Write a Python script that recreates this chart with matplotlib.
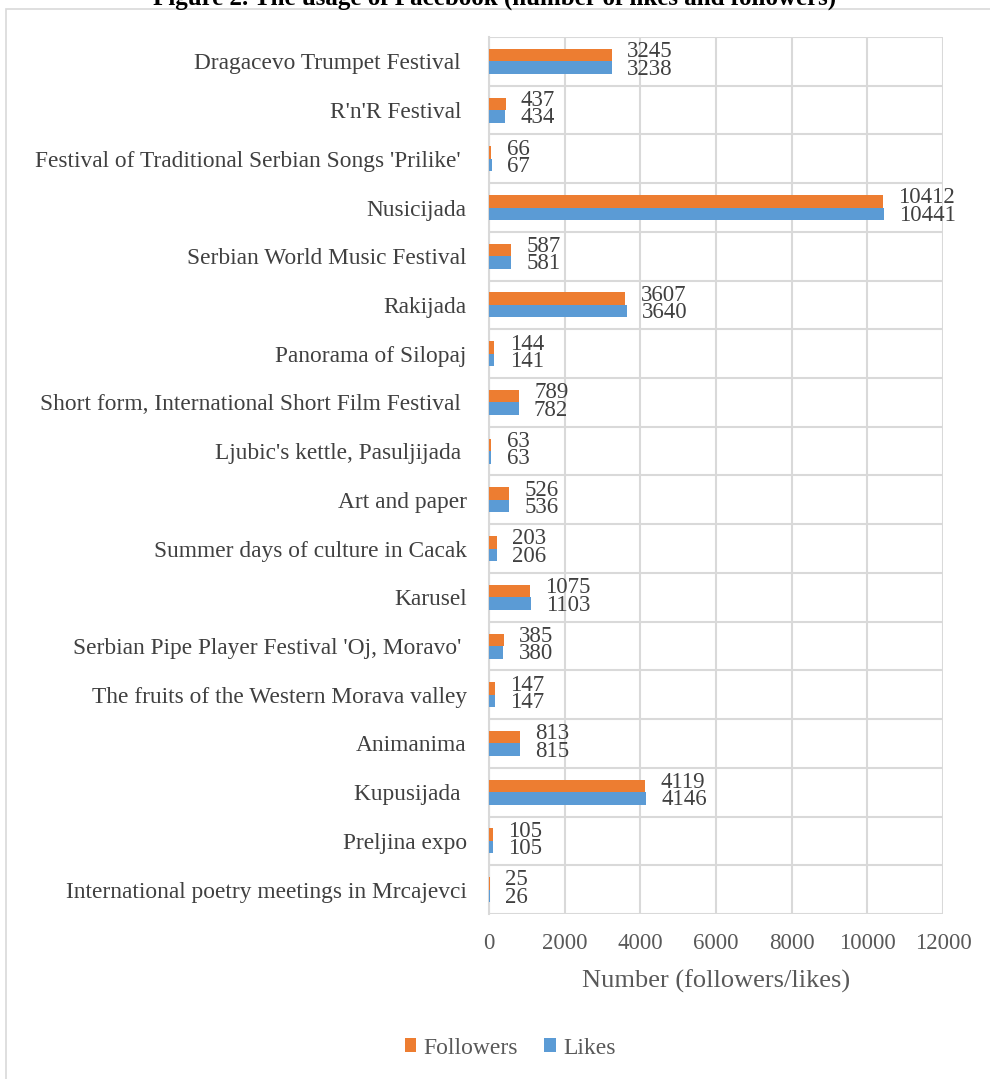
import matplotlib
matplotlib.use("Agg")
import matplotlib.pyplot as plt
from matplotlib.patches import Rectangle
import numpy as np

categories = [
    "Dragacevo Trumpet Festival ",
    "R'n'R Festival ",
    "Festival of Traditional Serbian Songs 'Prilike' ",
    "Nusicijada",
    "Serbian World Music Festival",
    "Rakijada",
    "Panorama of Silopaj",
    "Short form, International Short Film Festival ",
    "Ljubic's kettle, Pasuljijada ",
    "Art and paper",
    "Summer days of culture in Cacak",
    "Karusel",
    "Serbian Pipe Player Festival 'Oj, Moravo' ",
    "The fruits of the Western Morava valley",
    "Animanima",
    "Kupusijada ",
    "Preljina expo",
    "International poetry meetings in Mrcajevci",
]
followers = [3245, 437, 66, 10412, 587, 3607, 144, 789, 63, 526, 203, 1075, 385, 147, 813, 4119, 105, 25]
likes = [3238, 434, 67, 10441, 581, 3640, 141, 782, 63, 536, 206, 1103, 380, 147, 815, 4146, 105, 26]
xticks = [0, 2000, 4000, 6000, 8000, 10000, 12000]

plt.rcParams['font.family'] = ['Liberation Serif', 'DejaVu Serif']

W, H = 990, 1079
fig = plt.figure(figsize=(W / 100, H / 100), dpi=100)

# outer chart border
fig.patches.append(Rectangle((6 / W, -0.01), 1.0, 1 - 9 / H + 0.01, transform=fig.transFigure,
                             fill=False, edgecolor='#D9D9D9', linewidth=1.2))
fig.text(0.5, 1.0 + 2 / H, "Figure 2. The usage of Facebook (number of likes and followers)",
         ha='center', va='center', fontsize=18, fontweight='bold', color='black')

left, right = 489 / W, 943 / W
top, bottom = 1 - 37 / H, 1 - 914 / H
ax = fig.add_axes([left, bottom, right - left, top - bottom])

n = len(categories)
y = np.arange(n)
bh = 0.256
ax.barh(y - bh / 2, followers, height=bh, color='#ED7D31', label='Followers', zorder=3)
ax.barh(y + bh / 2, likes, height=bh, color='#5B9BD5', label='Likes', zorder=3)

for i in range(n):
    ax.annotate(str(followers[i]), (followers[i], y[i] - bh / 2 - 0.07), xytext=(11, 0),
                textcoords='offset points', ha='left', va='center', fontsize=16.5, color='#404040')
    ax.annotate(str(likes[i]), (likes[i], y[i] + bh / 2 + 0.03), xytext=(11, 0),
                textcoords='offset points', ha='left', va='center', fontsize=16.5, color='#404040')

ax.set_ylim(n - 0.5, -0.5)
ax.set_xlim(0, 12000)
ax.set_xticks(xticks)
ax.set_xticklabels([str(t) for t in xticks])
ax.set_yticks(y)
ax.set_yticklabels(categories)
ax.set_yticks(np.arange(n + 1) - 0.5, minor=True)
ax.tick_params(axis='y', which='both', length=0, labelsize=16.8, labelcolor='#404040', pad=16)
ax.tick_params(axis='x', length=0, labelsize=16.5, labelcolor='#595959', pad=14)
ax.grid(axis='x', color='#D9D9D9', linewidth=1.5, zorder=0)
ax.grid(axis='y', which='minor', color='#D9D9D9', linewidth=1.5, zorder=0)
ax.grid(axis='y', which='major', visible=False)
for s in ax.spines.values():
    s.set_visible(False)
ax.spines['left'].set_visible(True)
ax.spines['left'].set_color('#D9D9D9')
ax.spines['left'].set_linewidth(1.5)
ax.set_xlabel("Number (followers/likes)", fontsize=19, color='#595959', labelpad=11)

handles, labels = ax.get_legend_handles_labels()
fig.legend(handles, labels, loc='center', bbox_to_anchor=(510 / W, 1 - 1048 / H), ncol=2,
           frameon=False, fontsize=17, labelcolor='#595959', handlelength=0.5, handleheight=0.5,
           handletextpad=0.3, columnspacing=1.1)

fig.savefig("out.png", dpi=100)
